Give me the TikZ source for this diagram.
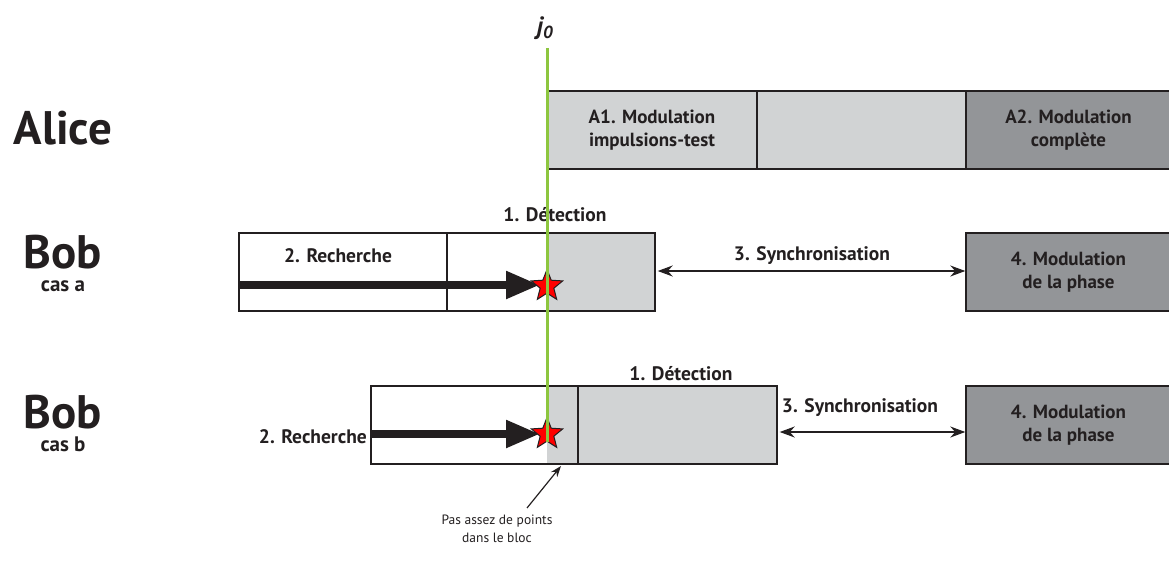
\documentclass[tikz,border=0pt]{standalone}
\usepackage{fontspec}
\setmainfont{PT Sans}
\usetikzlibrary{shapes.geometric,arrows.meta}
\definecolor{lgray}{HTML}{D1D3D4}
\definecolor{dgray}{HTML}{939598}
\definecolor{jgreen}{HTML}{8DC63F}
\definecolor{txt}{HTML}{231F20}
\newcommand{\bigname}[1]{{\fontsize{47}{23}\selectfont #1}}
\begin{document}
\begin{tikzpicture}[x=1pt,y=-1pt,
  cell/.style={draw=txt, line width=1.4pt, minimum height=78pt, inner sep=0pt, align=center,
    font=\bfseries\fontsize{19}{23}\selectfont, text=txt},
  graybg/.style={fill=lgray, draw=none, minimum height=78pt, inner sep=0pt},
  lbl/.style={font=\bfseries\fontsize{19.5}{23}\selectfont, text=txt, inner sep=0pt},
  big/.style={font=\bfseries\fontsize{47}{50}\selectfont, text=txt, inner sep=0pt},
  who/.style={font=\bfseries\fontsize{21}{23}\selectfont, text=txt, inner sep=0pt, align=center},
  note/.style={font=\fontsize{13.5}{18}\selectfont, text=txt, align=center, inner sep=0pt},
  sync/.style={draw=txt, line width=1.5pt, {Stealth[length=15pt,width=11pt]}-{Stealth[length=15pt,width=11pt]}},
  search/.style={draw=txt, line width=8pt, -{Triangle[length=34pt,width=26pt]}},
  starmark/.style={star, star points=5, star point ratio=2.3, minimum size=33pt, inner sep=0pt,
    fill=red, draw=txt, line width=1pt},
  jline/.style={draw=jgreen, line width=3pt}
]
\useasboundingbox (0,0) rectangle (1169,567);

% left labels
\node[big] (alice) at (63,128) {Alice};
\node[who] (boba) at (63,263) {\bigname{Bob}\\cas a};
\node[who] (bobb) at (63,423) {\bigname{Bob}\\cas b};

% Alice row
\node[cell, minimum width=210pt, fill=lgray] (a1) at (652,130) {A1. Modulation\\impulsions-test};
\node[cell, minimum width=209pt, fill=lgray] (a2) at (861.5,130) {};
\node[cell, minimum width=205pt, fill=dgray] (a3) at (1068.5,130) {A2. Modulation\\complète};

% Bob case a
\node[graybg, minimum width=108pt] (bag) at (601,272) {};
\node[cell, minimum width=208pt] (ba1) at (343,272) {};
\node[cell, minimum width=208pt] (ba2) at (551,272) {};
\node[cell, minimum width=205pt, fill=dgray] (ba4) at (1068.5,272) {4. Modulation\\de la phase};
\node[lbl] (deta) at (555,215) {1. Détection};
\node[lbl] (recha) at (338,256) {2. Recherche};
\node[lbl] (synca) at (812,256) {3. Synchronisation};
\coordinate (sa) at (239,285);
\coordinate (ea) at (540,285);
\draw[search] (sa) -- (ea);
\node[starmark] (stara) at (547,286) {};
\draw[sync] (ba2.east) ++(2,-1) coordinate (s1) -- (ba4.west |- s1);

% Bob case b
\node[graybg, minimum width=230pt] (bbg) at (662,425) {};
\node[cell, minimum width=207pt] (bb1) at (474.5,425) {};
\node[cell, minimum width=199pt] (bb2) at (677.5,425) {};
\node[cell, minimum width=205pt, fill=dgray] (bb4) at (1068.5,425) {4. Modulation\\de la phase};
\node[lbl] (detb) at (681,374) {1. Détection};
\node[lbl, anchor=east] (rechb) at (367,437) {2. Recherche};
\node[lbl] (syncb) at (860,408) {3. Synchronisation};
\coordinate (sb) at (371,434);
\coordinate (eb) at (540,434);
\draw[search] (sb) -- (eb);
\node[starmark] (starb) at (547,434) {};
\draw[sync] (bb2.east) ++(2,7) coordinate (s2) -- (bb4.west |- s2);

% green line j0
\coordinate (gtop) at (547,48);
\coordinate (gbot) at (547,442);
\draw[jline] (gtop) -- (gbot);
\node[font=\bfseries\itshape\fontsize{25}{27}\selectfont, text=txt, inner sep=0pt] (j0) at (545,28) {j\textsubscript{0}};

% note
\node[note] (note) at (497,529) {Pas assez de points\\dans le bloc};
\coordinate (nb) at (527,508);
\coordinate (nt) at (561,466);
\draw[draw=txt, line width=1.2pt, -{Stealth[length=11pt,width=8pt]}] (nb) -- (nt);
\end{tikzpicture}
\end{document}
